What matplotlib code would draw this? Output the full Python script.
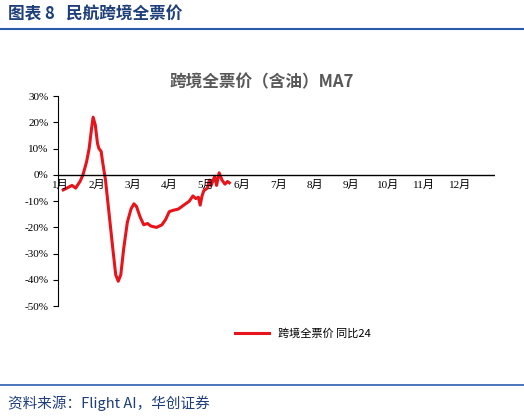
import matplotlib
matplotlib.use('Agg')
import matplotlib.pyplot as plt

plt.rcParams['font.family'] = ['Liberation Serif', 'Noto Sans CJK SC']
plt.rcParams['axes.unicode_minus'] = False

months = ['1月', '2月', '3月', '4月', '5月', '6月', '7月', '8月', '9月', '10月', '11月', '12月']
y_ticks = [30, 20, 10, 0, -10, -20, -30, -40, -50]
# x 以月为单位（0 = 1月1日）
x_vals = [0.14, 0.38, 0.48, 0.6, 0.68, 0.78, 0.85, 0.92, 0.96, 1.02, 1.08, 1.12, 1.18, 1.22,
          1.3, 1.4, 1.5, 1.58, 1.65, 1.72, 1.8, 1.9, 2.0, 2.08, 2.15, 2.25, 2.35, 2.45, 2.55,
          2.7, 2.85, 2.95, 3.05, 3.15, 3.3, 3.4, 3.5, 3.6, 3.7, 3.78, 3.85, 3.9, 3.95, 4.0,
          4.1, 4.15, 4.2, 4.3, 4.35, 4.42, 4.5, 4.58, 4.65, 4.7]
y_vals = [-5.7, -4, -5, -2.5, 0, 5, 10, 18, 22, 19, 12, 10, 9, 5,
          -2, -15, -28, -38, -40.5, -38, -28, -18, -13, -11, -12, -16, -19, -18.5, -19.5,
          -20, -19, -17, -14, -13.5, -13, -12, -11, -10, -8, -9, -8.5, -11.5, -8, -6,
          -5, -2, -4, -0.5, -4, 0.8, -2, -3.5, -2.5, -3]

fig = plt.figure(figsize=(5.24, 4.2), dpi=100)
fig.patch.set_facecolor('white')

# 顶部标题与底部来源
fig.text(0.015, 0.965, '图表 8   民航跨境全票价', fontsize=12, fontweight='bold',
         color='#1f3f7a', family=['Noto Sans CJK SC'], va='center')
fig.add_artist(plt.Line2D([0.0, 1.0], [0.93, 0.93], color='#2a5caa', lw=1.5))
fig.text(0.015, 0.04, '资料来源：Flight AI，华创证券', fontsize=10.5, style='italic',
         color='#1f3f7a', family=['Noto Sans CJK SC'], va='center')
fig.add_artist(plt.Line2D([0.0, 1.0], [0.083, 0.083], color='#2a5caa', lw=1.2))

ax = fig.add_axes([0.111, 0.271, 0.834, 0.5])
ax.plot(x_vals, y_vals, color='#e8141c', lw=2.2, label='跨境全票价 同比24')
ax.set_xlim(0, 12)
ax.set_ylim(-50, 30)
ax.set_yticks(y_ticks)
ax.set_yticklabels([f'{v}%' for v in y_ticks], fontsize=8)
ax.set_xticks([])
for s in ['top', 'right', 'bottom']:
    ax.spines[s].set_visible(False)
ax.axhline(0, color='black', lw=1)
for i, m in enumerate(months):
    ax.text(i + 0.05, -1.8, m, fontsize=8, ha='center', va='top')

fig.text(0.5, 0.805, '跨境全票价（含油）MA7', fontsize=12, fontweight='bold', color='#595959',
         family=['Noto Sans CJK SC'], ha='center', va='center')
leg = ax.legend(loc='upper center', bbox_to_anchor=(0.56, -0.06), frameon=False,
                prop={'family': ['Noto Sans CJK SC'], 'size': 8}, handlelength=3)

fig.savefig('out.png', dpi=100, facecolor='white')
